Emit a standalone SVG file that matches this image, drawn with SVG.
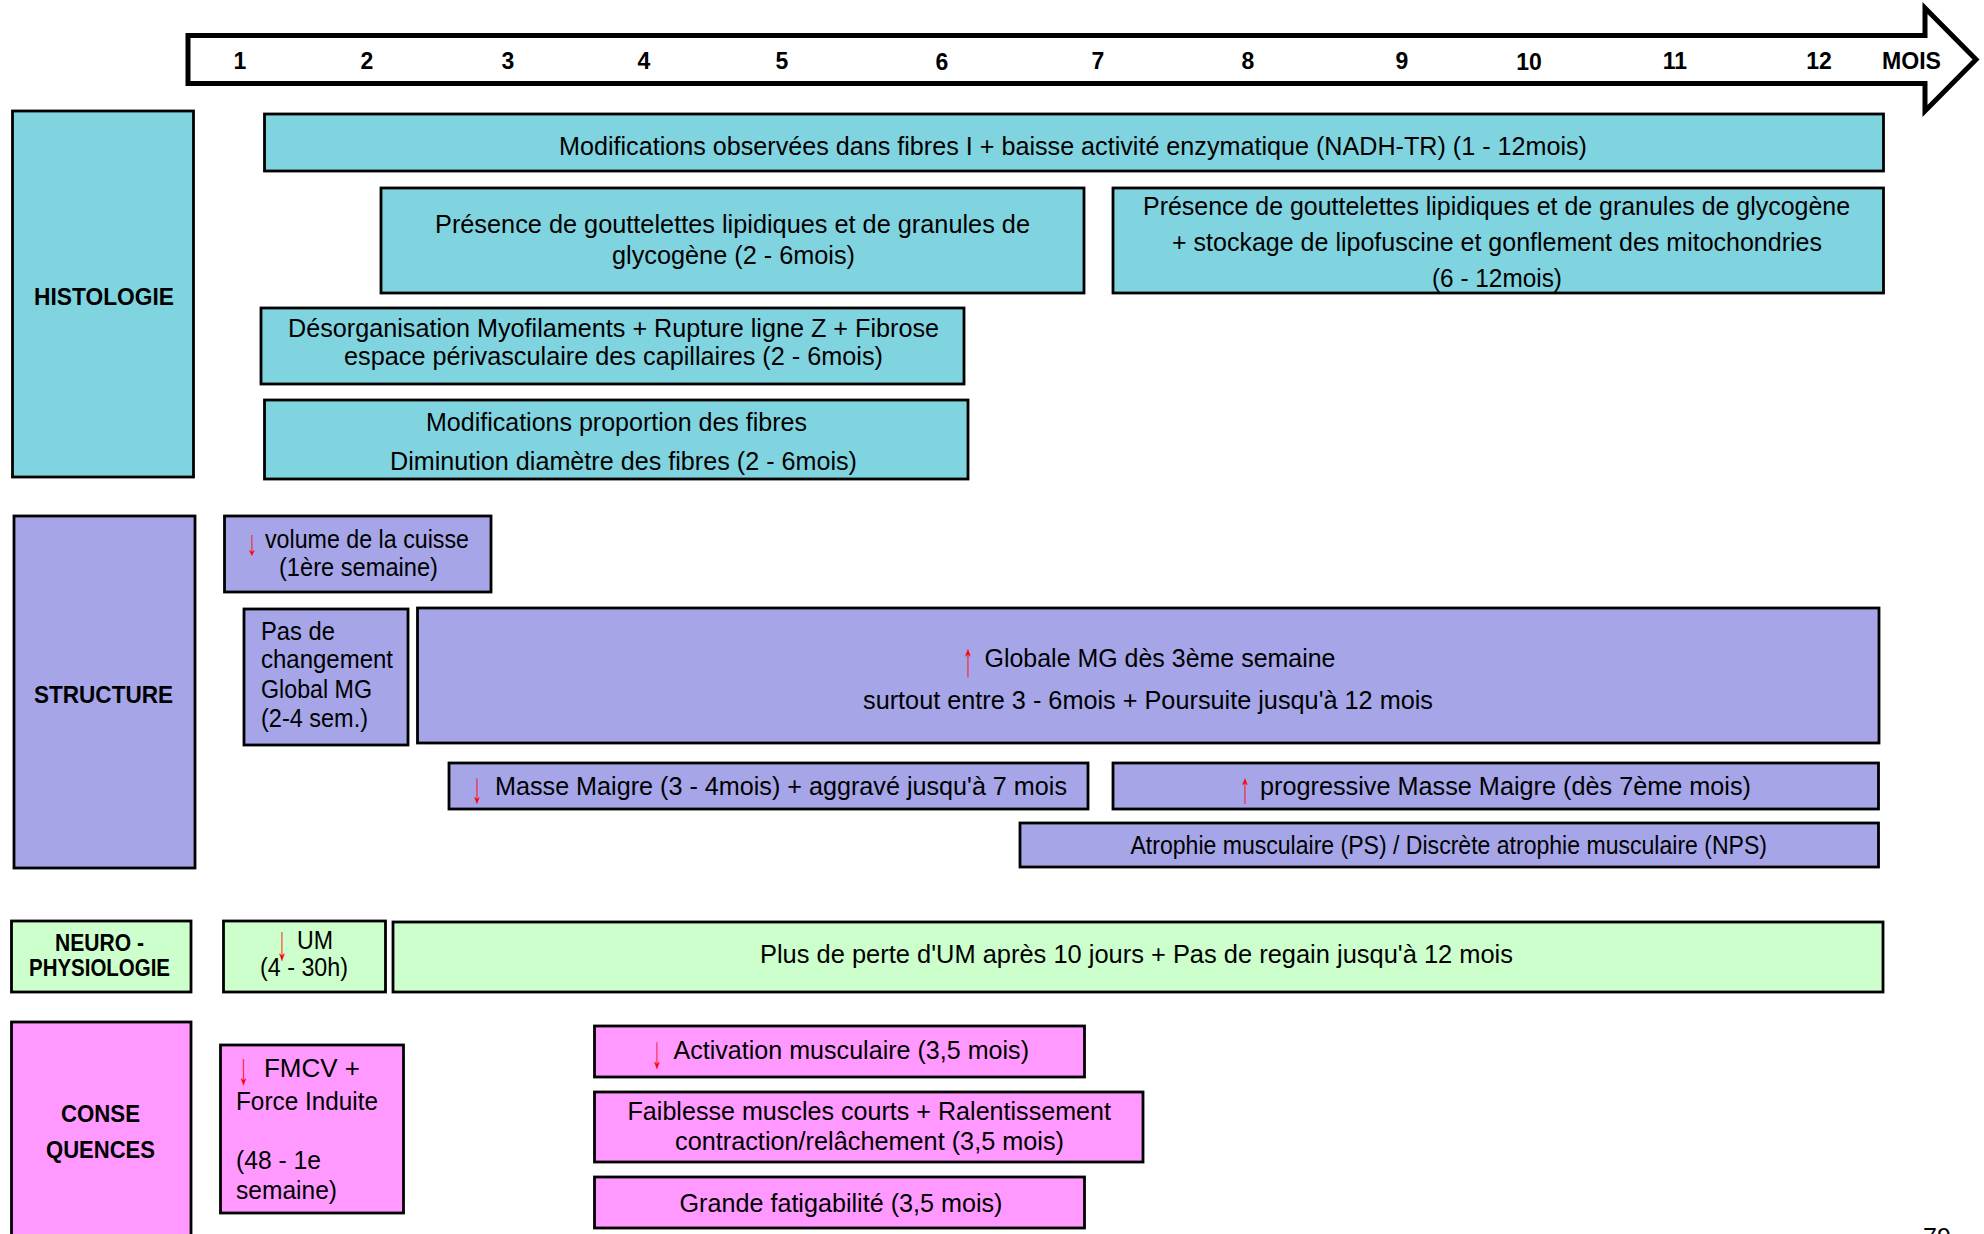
<svg xmlns="http://www.w3.org/2000/svg" width="1984" height="1234" viewBox="0 0 1984 1234">
<style>
.box{stroke:#000;stroke-width:2.8}
.h{fill:#80d4e0}.s{fill:#a5a5e8}.n{fill:#ccffcc}.c{fill:#ff99ff}
text{font-family:"Liberation Sans Narrow","Liberation Sans",Arial,sans-serif;font-size:25px;fill:#000}
.b{font-weight:bold;font-size:24px}
.num{font-weight:bold;font-size:23px;text-anchor:middle}
.r{fill:#ff0000;font-family:"Liberation Sans",Arial,sans-serif;text-anchor:middle;font-size:34px}
</style>
<rect width="1984" height="1234" fill="#fff"/>
<g id="timeline">
<path d="M188,35.5 H1925 V8 L1976,59.5 L1925,111 V83.5 H188 Z" fill="#fff" stroke="#000" stroke-width="5"/>
<text class="num" x="240" y="69">1</text>
<text class="num" x="367" y="69">2</text>
<text class="num" x="508" y="69">3</text>
<text class="num" x="644" y="69">4</text>
<text class="num" x="782" y="69">5</text>
<text class="num" x="942" y="70">6</text>
<text class="num" x="1098" y="69">7</text>
<text class="num" x="1248" y="69">8</text>
<text class="num" x="1402" y="69">9</text>
<text class="num" x="1529" y="70">10</text>
<text class="num" x="1675" y="69">11</text>
<text class="num" x="1819" y="69">12</text>
<text class="b" x="1882" y="69" font-size="23" textLength="59" lengthAdjust="spacingAndGlyphs">MOIS</text>
</g>
<g id="connectors"/>
<g id="histologie">
<rect class="box h" x="12.5" y="111" width="181" height="366"/>
<text class="b" x="34" y="305" textLength="140" lengthAdjust="spacingAndGlyphs">HISTOLOGIE</text>
</g>
<g id="h1">
<rect class="box h" x="264.5" y="114" width="1619" height="57"/>
<text x="559" y="155" textLength="1028" lengthAdjust="spacingAndGlyphs">Modifications observées dans fibres I + baisse activité enzymatique (NADH-TR) (1 - 12mois)</text>
</g>
<g id="h2">
<rect class="box h" x="381" y="188" width="703" height="105"/>
<text x="435" y="233" textLength="595" lengthAdjust="spacingAndGlyphs">Présence de gouttelettes lipidiques et de granules de</text>
<text x="612" y="264" textLength="243" lengthAdjust="spacingAndGlyphs">glycogène (2 - 6mois)</text>
</g>
<g id="h3">
<rect class="box h" x="1113" y="188" width="770.5" height="105"/>
<text x="1143" y="215" textLength="707" lengthAdjust="spacingAndGlyphs">Présence de gouttelettes lipidiques et de granules de glycogène</text>
<text x="1172" y="251" textLength="650" lengthAdjust="spacingAndGlyphs">+ stockage de lipofuscine et gonflement des mitochondries</text>
<text x="1432" y="287" textLength="130" lengthAdjust="spacingAndGlyphs">(6 - 12mois)</text>
</g>
<g id="h4">
<rect class="box h" x="261" y="308" width="703" height="76"/>
<text x="288" y="337" textLength="651" lengthAdjust="spacingAndGlyphs">Désorganisation Myofilaments + Rupture ligne Z + Fibrose</text>
<text x="344" y="365" textLength="539" lengthAdjust="spacingAndGlyphs">espace périvasculaire des capillaires (2 - 6mois)</text>
</g>
<g id="h5">
<rect class="box h" x="264.5" y="400" width="703.5" height="79"/>
<text x="426" y="431" textLength="381" lengthAdjust="spacingAndGlyphs">Modifications proportion des fibres</text>
<text x="390" y="470" textLength="467" lengthAdjust="spacingAndGlyphs">Diminution diamètre des fibres (2 - 6mois)</text>
</g>
<g id="structure">
<rect class="box s" x="14" y="516" width="181" height="352"/>
<text class="b" x="34" y="703" textLength="139" lengthAdjust="spacingAndGlyphs">STRUCTURE</text>
</g>
<g id="s1">
<rect class="box s" x="224.5" y="516" width="266.5" height="76"/>
<text class="r" transform="translate(252,555) scale(0.6,1.05)">↓</text>
<text x="265" y="548" textLength="204" lengthAdjust="spacingAndGlyphs">volume de la cuisse</text>
<text x="279" y="576" textLength="159" lengthAdjust="spacingAndGlyphs">(1ère semaine)</text>
</g>
<g id="s2">
<rect class="box s" x="244" y="609" width="164" height="136"/>
<text x="261" y="640" textLength="74" lengthAdjust="spacingAndGlyphs">Pas de</text>
<text x="261" y="668" textLength="132" lengthAdjust="spacingAndGlyphs">changement</text>
<text x="261" y="698" textLength="111" lengthAdjust="spacingAndGlyphs">Global MG</text>
<text x="261" y="727" textLength="107" lengthAdjust="spacingAndGlyphs">(2-4 sem.)</text>
</g>
<g id="s3">
<rect class="box s" x="417.5" y="608" width="1461.5" height="135"/>
<text class="r" transform="translate(968,676) scale(0.6,1.4)">↑</text>
<text x="984.5" y="667" textLength="351" lengthAdjust="spacingAndGlyphs">Globale MG dès 3ème semaine</text>
<text x="863" y="709" textLength="570" lengthAdjust="spacingAndGlyphs">surtout entre 3 - 6mois + Poursuite jusqu'à 12 mois</text>
</g>
<g id="s4">
<rect class="box s" x="449" y="763" width="639" height="46"/>
<text class="r" transform="translate(477,803) scale(0.6,1.28)">↓</text>
<text x="495" y="795" textLength="572" lengthAdjust="spacingAndGlyphs">Masse Maigre (3 - 4mois) + aggravé jusqu'à 7 mois</text>
</g>
<g id="s5">
<rect class="box s" x="1113" y="763" width="765.5" height="46"/>
<text class="r" transform="translate(1245,803) scale(0.6,1.28)">↑</text>
<text x="1260" y="795" textLength="491" lengthAdjust="spacingAndGlyphs">progressive Masse Maigre (dès 7ème mois)</text>
</g>
<g id="s6">
<rect class="box s" x="1020" y="823" width="858.5" height="44"/>
<text x="1130.5" y="854" textLength="636.5" lengthAdjust="spacingAndGlyphs">Atrophie musculaire (PS) / Discrète atrophie musculaire (NPS)</text>
</g>
<g id="neuro">
<rect class="box n" x="11.5" y="921" width="179.5" height="71"/>
<text class="b" x="55" y="951" font-size="23" textLength="89" lengthAdjust="spacingAndGlyphs">NEURO -</text>
<text class="b" x="29" y="976" font-size="23" textLength="141" lengthAdjust="spacingAndGlyphs">PHYSIOLOGIE</text>
</g>
<g id="n1">
<rect class="box n" x="223.5" y="921" width="162" height="71"/>
<text class="r" transform="translate(282,960) scale(0.6,1.45)">↓</text>
<text x="297" y="949" textLength="36" lengthAdjust="spacingAndGlyphs">UM</text>
<text x="260" y="976" textLength="88" lengthAdjust="spacingAndGlyphs">(4 - 30h)</text>
</g>
<g id="n2">
<rect class="box n" x="393" y="922" width="1490" height="70"/>
<text x="760" y="963" textLength="753" lengthAdjust="spacingAndGlyphs">Plus de perte d'UM après 10 jours + Pas de regain jusqu'à 12 mois</text>
</g>
<g id="consequences">
<rect class="box c" x="11.5" y="1022" width="179.5" height="220"/>
<text class="b" x="61" y="1122" font-size="25" textLength="79" lengthAdjust="spacingAndGlyphs">CONSE</text>
<text class="b" x="46" y="1158" font-size="25" textLength="109" lengthAdjust="spacingAndGlyphs">QUENCES</text>
</g>
<g id="c1">
<rect class="box c" x="220.5" y="1045" width="183" height="168"/>
<text class="r" transform="translate(243.5,1084) scale(0.6,1.32)">↓</text>
<text x="264" y="1077" textLength="96" lengthAdjust="spacingAndGlyphs">FMCV +</text>
<text x="236" y="1110" textLength="142" lengthAdjust="spacingAndGlyphs">Force Induite</text>
<text x="236" y="1169" textLength="85" lengthAdjust="spacingAndGlyphs">(48 - 1e</text>
<text x="236" y="1199" textLength="101" lengthAdjust="spacingAndGlyphs">semaine)</text>
</g>
<g id="c2">
<rect class="box c" x="594.5" y="1026" width="490" height="51"/>
<text class="r" transform="translate(657,1068) scale(0.6,1.34)">↓</text>
<text x="673.5" y="1059" textLength="355.5" lengthAdjust="spacingAndGlyphs">Activation musculaire (3,5 mois)</text>
</g>
<g id="c3">
<rect class="box c" x="594.5" y="1092" width="548.5" height="70"/>
<text x="627.5" y="1120" textLength="483.5" lengthAdjust="spacingAndGlyphs">Faiblesse muscles courts + Ralentissement</text>
<text x="675" y="1150" textLength="389" lengthAdjust="spacingAndGlyphs">contraction/relâchement (3,5 mois)</text>
</g>
<g id="c4">
<rect class="box c" x="594.5" y="1177" width="490" height="51"/>
<text x="679.5" y="1212" textLength="323" lengthAdjust="spacingAndGlyphs">Grande fatigabilité (3,5 mois)</text>
</g>
<text x="1923" y="1246" font-family="Liberation Sans,Arial,sans-serif" font-size="28">79</text>
</svg>
